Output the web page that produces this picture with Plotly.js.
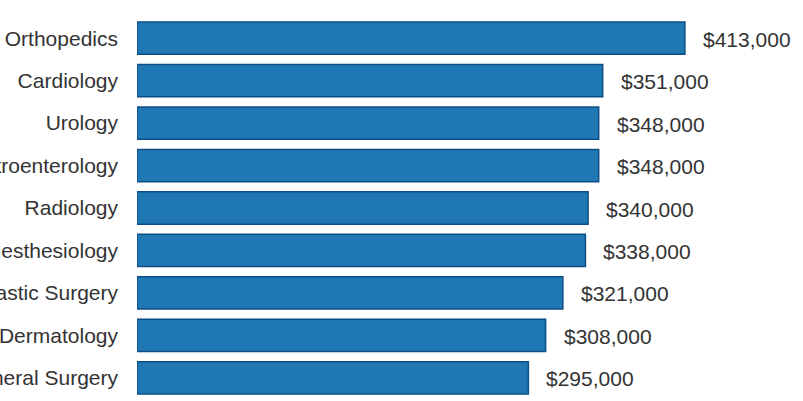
<!DOCTYPE html>
<html>
<head>
<meta charset="utf-8">
<script src="https://cdn.plot.ly/plotly-3.0.1.min.js"></script>
<style>html,body{margin:0;padding:0;background:#fff;}#chart{width:803px;height:401px;}</style>
</head>
<body>
<div id="chart"></div>
<script>
const specialties = ["Orthopedics","Cardiology","Urology","Gastroenterology","Radiology","Anesthesiology","Plastic Surgery","Dermatology","General Surgery"];
const salaries = [413000,351000,348000,348000,340000,338000,321000,308000,295000];
const valueLabels = ["$413,000","$351,000","$348,000","$348,000","$340,000","$338,000","$321,000","$308,000","$295,000"];

const font = "Liberation Sans, Arial, Helvetica, sans-serif";
const trace = {
  type: "bar",
  orientation: "h",
  y: specialties,
  x: salaries,
  marker: {color: "#1f77b4", line: {color: "#0d4f85", width: 1.5}},
  hoverinfo: "none"
};
const annotations = specialties.map((s, i) => ({
  x: salaries[i], y: s, xref: "x", yref: "y",
  text: valueLabels[i], showarrow: false,
  xanchor: "left", yanchor: "middle", xshift: 16, yshift: -1,
  font: {family: font, size: 21, color: "#333333"}
}));
const layout = {
  width: 803, height: 401,
  margin: {l: 137, r: 0, t: 17, b: 2, pad: 0},
  paper_bgcolor: "#ffffff", plot_bgcolor: "#ffffff",
  bargap: 0.24,
  showlegend: false,
  xaxis: {range: [0, 502000], visible: false, fixedrange: true},
  yaxis: {autorange: "reversed", showgrid: false, zeroline: false, showline: false,
          ticks: "", ticklabelstandoff: 18,
          tickfont: {family: font, size: 21, color: "#333333"}},
  annotations: annotations
};
Plotly.newPlot("chart", [trace], layout, {displayModeBar: false, staticPlot: true});
</script>
</body>
</html>
